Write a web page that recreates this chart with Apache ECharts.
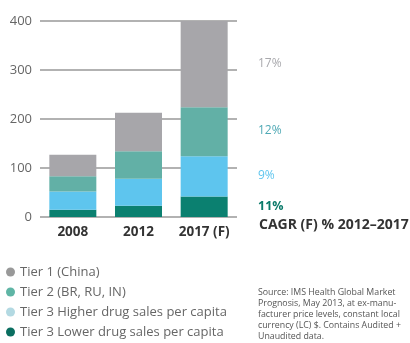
<!DOCTYPE html>
<html><head><meta charset="utf-8">
<script src="https://cdn.jsdelivr.net/npm/echarts@6/dist/echarts.min.js"></script>
<style>html,body{margin:0;padding:0;background:#fff}#c{width:410px;height:343px}</style>
</head><body><div id="c"></div>
<script>
const categories = ['2008', '2012', '2017 (F)'];
const tier3Lower = [15, 23, 42];
const tier3Higher = [37, 55, 82];
const tier2 = [31, 56, 100];
const tier1 = [44, 79, 176];
const seriesNames = ['Tier 1 (China)', 'Tier 2 (BR, RU, IN)', 'Tier 3 Higher drug sales per capita', 'Tier 3 Lower drug sales per capita'];
const cagrLabels = ['17%', '12%', '9%', '11%'];
const cagrTitle = 'CAGR (F) % 2012–2017';
const sourceLines = ['Source: IMS Health Global Market', 'Prognosis, May 2013, at ex-manu-', 'facturer price levels, constant local', 'currency (LC) $. Contains Audited +', 'Unaudited data.'];

const colors = { t1: '#a7a6aa', t2: '#62b0a6', t3h: '#5ec5ee', t3l: '#0b8070' };
const font = '"Open Sans", sans-serif';
const chart = echarts.init(document.getElementById('c'));
const mk = (name, data, color) => ({ name, type: 'bar', stack: 's', data, barWidth: 47, itemStyle: { color }, emphasis: { disabled: true } });
chart.setOption({
  animation: false,
  textStyle: { fontFamily: font },
  grid: { left: 40, top: 21, width: 197, height: 196 },
  xAxis: { type: 'category', data: categories, axisLine: { show: false }, axisTick: { show: false },
    axisLabel: { interval: 0, color: '#333', fontWeight: 'bold', fontSize: 13.5, margin: 8, fontFamily: font } },
  yAxis: { type: 'value', min: 0, max: 400, interval: 100, axisLine: { show: false }, axisTick: { show: false },
    axisLabel: { color: '#666', fontSize: 13, margin: 8, fontFamily: font },
    splitLine: { lineStyle: { color: '#999', width: 1.5 } } },
  legend: { orient: 'vertical', left: 6, top: 265, height: 78, itemGap: 6, itemWidth: 9, itemHeight: 9, icon: 'circle', padding: 0,
    data: [
      { name: seriesNames[0], itemStyle: { color: '#999' } },
      { name: seriesNames[1], itemStyle: { color: '#5fb5a5' } },
      { name: seriesNames[2], itemStyle: { color: '#b3d9e2' } },
      { name: seriesNames[3], itemStyle: { color: '#0a6e60' } }
    ],
    textStyle: { color: '#666', fontSize: 13, lineHeight: 14, fontFamily: font } },
  series: [
    mk(seriesNames[3], tier3Lower, colors.t3l),
    mk(seriesNames[2], tier3Higher, colors.t3h),
    mk(seriesNames[1], tier2, colors.t2),
    mk(seriesNames[0], tier1, colors.t1)
  ],
  graphic: [
    { type: 'text', left: 258, top: 58, style: { text: cagrLabels[0], fill: '#a9a9ad', font: '12px ' + font } },
    { type: 'text', left: 258, top: 125, style: { text: cagrLabels[1], fill: '#4fa9b5', font: '12px ' + font } },
    { type: 'text', left: 258, top: 170, style: { text: cagrLabels[2], fill: '#5ec5ee', font: '12px ' + font } },
    { type: 'text', left: 258, top: 200, style: { text: cagrLabels[3], fill: '#0b7a6a', font: 'bold 12.5px ' + font } },
    { type: 'text', left: 259, top: 218, style: { text: cagrTitle, fill: '#333', font: 'bold 14px ' + font } },
    { type: 'text', left: 258, top: 287, style: { text: sourceLines.join('\n'), fill: '#555', font: '8.8px ' + font, lineHeight: 11 } }
  ]
});
</script></body></html>
